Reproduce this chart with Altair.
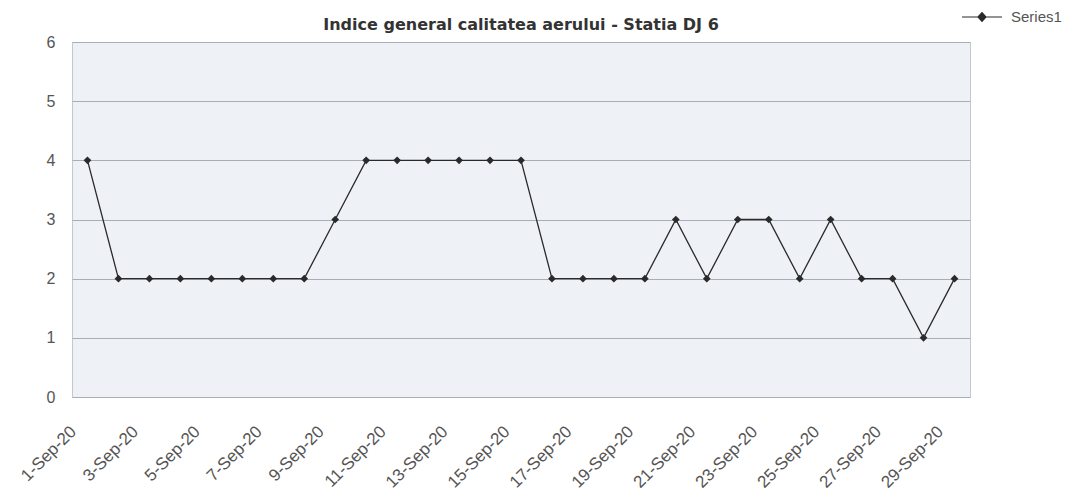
import altair as alt
import pandas as pd

days = [f"{d}-Sep-20" for d in range(1, 30)]
values = [4, 2, 2, 2, 2, 2, 2, 2, 3, 4, 4, 4, 4, 4, 4,
          2, 2, 2, 2, 3, 2, 3, 3, 2, 3, 2, 2, 1, 2]
series = ["Series1"] * len(days)
tick_labels = [f"{d}-Sep-20" for d in range(1, 30, 2)]

df = pd.DataFrame({"date": days, "value": values, "series": series})

x = alt.X("date:O", sort=days, title=None,
          scale=alt.Scale(type="point", padding=0.5),
          axis=alt.Axis(values=tick_labels, labelAngle=-45, labelAlign="right",
                        labelBaseline="top", labelFontSize=17, labelColor="#555555",
                        labelFont="Liberation Sans", ticks=False, domain=False,
                        grid=False, labelPadding=26, labelOffset=-20))
y = alt.Y("value:Q", title=None,
          scale=alt.Scale(domain=[0, 6]),
          axis=alt.Axis(values=[0, 1, 2, 3, 4, 5, 6], labelFontSize=16,
                        labelColor="#555555", labelFont="Liberation Sans",
                        ticks=False, domain=False, labelPadding=17,
                        gridColor="#a9aeb6", gridWidth=1.2))

legend_path = "M-1,0L1,0M-0.2,0L0,-0.22L0.2,0L0,0.22Z"
color = alt.Color("series:N", title=None,
                  scale=alt.Scale(domain=["Series1"], range=["#2a2a2a"]),
                  legend=alt.Legend(orient="none", legendX=889, legendY=-46,
                                    symbolType=legend_path, symbolSize=1600,
                                    symbolStrokeWidth=1.2, symbolFillColor="#2a2a2a",
                                    labelFontSize=15, labelColor="#555555",
                                    labelFont="Liberation Sans", labelOffset=8))

line = alt.Chart(df).mark_line(strokeWidth=1.3).encode(x=x, y=y, color=color)
pts = alt.Chart(df).mark_point(shape="diamond", filled=True, size=60, opacity=1).encode(
    x=x, y=y, color=alt.Color("series:N", scale=alt.Scale(domain=["Series1"], range=["#2a2a2a"]), legend=None))

chart = alt.layer(line, pts).properties(
    width=898, height=355,
    autosize=alt.AutoSizeParams(type="none"),
    padding={"left": 64, "top": 34, "right": 112, "bottom": 96},
    title=alt.TitleParams("Indice general calitatea aerului - Statia DJ 6",
                          fontSize=16, fontWeight="bold", color="#333333",
                          font="DejaVu Sans", anchor="middle", offset=-37),
    background="#ffffff",
).configure_view(fill="#eef1f6", stroke="#c3c8d0", strokeWidth=1)

chart.save("out.html", embed_options={"renderer": "svg", "actions": False})
